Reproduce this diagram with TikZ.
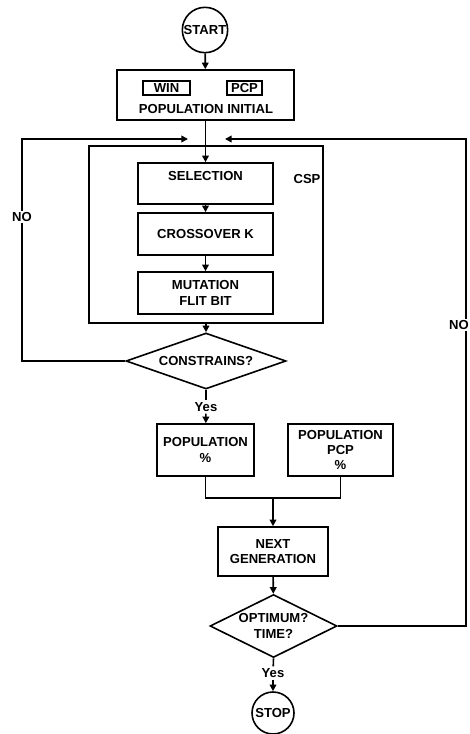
\documentclass[tikz,border=0pt]{standalone}
\usepackage{fontspec}
\setmainfont{Liberation Sans}
\usepackage{tikz}
\usetikzlibrary{shapes.geometric, arrows.meta, positioning, calc}

\begin{document}
\begin{tikzpicture}[x=0.75pt, y=-0.75pt, >={Triangle[length=5pt,width=5pt]}, line width=1.2pt,
  font=\fontsize{9.8}{11.6}\selectfont\bfseries]
  \tikzstyle{proc} = [rectangle, draw, align=center, inner sep=0pt]
  \tikzstyle{term} = [circle, draw, inner sep=0pt, minimum size=34pt]
  \tikzstyle{decide} = [diamond, draw, align=center, inner sep=0pt]
  \tikzstyle{tag} = [inner sep=1pt]
  \tikzstyle{flow} = [->]

  \useasboundingbox (0,0) rectangle (469,734);

  % start and initial population
  \node [term] (start) at (205,30) {START};
  \node [proc, minimum width=132.75pt, minimum height=37.5pt] (init) at (205.5,95) {};
  \node [proc, minimum width=35.25pt, minimum height=10.5pt] (win) at (166.5,88) {WIN};
  \node [proc, minimum width=26.25pt, minimum height=10.5pt] (pcp) at (244.5,88) {PCP};
  \node [tag] (initlbl) at (206,109) {POPULATION INITIAL};

  % CSP block
  \node [proc, minimum width=175.5pt, minimum height=132.75pt] (csp) at (206,234.5) {};
  \node [tag] (csplbl) at (307,179) {CSP};
  \node [proc, minimum width=101.25pt, minimum height=30.75pt] (sel) at (205.5,183.5) {SELECTION\\\phantom{X}};
  \node [proc, minimum width=101.25pt, minimum height=31.5pt] (cross) at (205.5,234) {CROSSOVER K};
  \node [proc, minimum width=101.25pt, minimum height=31.5pt] (mut) at (205.5,293) {MUTATION\\FLIT BIT};

  \node [decide, minimum width=120pt, minimum height=42pt, aspect=2.86] (cons) at (206,361) {CONSTRAINS?};
  \node [tag] (yes1) at (206,407) {Yes};

  % populations
  \node [proc, minimum width=72.75pt, minimum height=39pt] (pop) at (205.5,450) {POPULATION\\\%};
  \node [proc, minimum width=78.75pt, minimum height=39pt] (poppcp) at (340.5,450) {POPULATION\\PCP\\\%};
  \node [proc, minimum width=82.5pt, minimum height=36.75pt] (next) at (273,551.5) {NEXT\\GENERATION};

  \node [decide, minimum width=95.25pt, minimum height=47.25pt, aspect=2] (opt) at (273.5,626) {OPTIMUM?\\TIME?};
  \node [tag] (yes2) at (273,673) {Yes};
  \node [term, minimum size=31.5pt] (stop) at (273,713) {STOP};

  \coordinate (join) at (273,498);
  \coordinate (leftc) at (22,139);
  \coordinate (rightc) at (466,139);
  \coordinate (inl) at (188,139);
  \coordinate (inr) at (225,139);

  % connectors
  \draw[flow] (start) -- (init);
  \draw[flow] (init) -- (sel);
  \draw[flow] (sel) -- (cross);
  \draw[flow] (cross) -- (mut);
  \draw[flow] (csp.south) -- (cons.north);
  \draw (cons.south) -- (yes1);
  \draw[flow] (yes1) -- (pop);
  \draw (pop.south) |- (join) -| (poppcp.south);
  \draw[flow] (join) -- (next);
  \draw[flow] (next) -- (opt);
  \draw (opt.south) -- (yes2);
  \draw[flow] (yes2) -- (stop);

  \draw[flow] (cons.west) -| (leftc) -- (inl);
  \draw[flow] (opt.east) -| (rightc) -- (inr);

  \node [tag, fill=white] (nol) at (22,217) {NO};
  \node [tag, fill=white] (nor) at (459,325) {NO};
\end{tikzpicture}
\end{document}
